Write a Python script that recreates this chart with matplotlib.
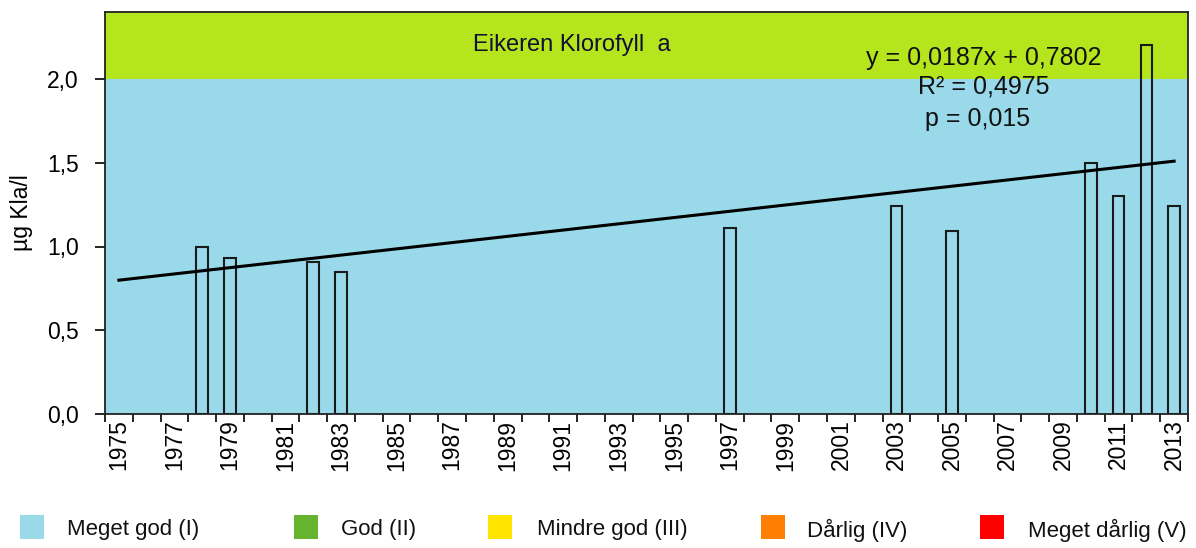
import matplotlib
matplotlib.use("Agg")
import matplotlib.pyplot as plt
from matplotlib.patches import Rectangle
from matplotlib.ticker import FuncFormatter
import numpy as np

plt.rcParams['font.family'] = ['Liberation Sans', 'DejaVu Sans']

# data
years = list(range(1975, 2014))
bar_years = [1978, 1979, 1982, 1983, 1997, 2003, 2005, 2010, 2011, 2012, 2013]
bar_values = [1.00, 0.93, 0.91, 0.85, 1.11, 1.24, 1.09, 1.50, 1.30, 2.20, 1.24]
trend_slope = 0.0187
trend_intercept = 0.7802
title = "Eikeren Klorofyll  a"
eq_lines = ["y = 0,0187x + 0,7802", "R² = 0,4975", "p = 0,015"]
class_limits = [0.0, 2.0, 2.4]
class_names = ["Meget god (I)", "God (II)", "Mindre god (III)", "Dårlig (IV)", "Meget dårlig (V)"]
class_colors = ["#99D9EA", "#66B32E", "#FFE400", "#FF7F00", "#FF0000"]
band_colors = ["#99D9EA", "#B5E61D"]

FS_TICK = 16.5
FS_TITLE = 17
FS_EQ = 18
FS_LEG = 16

fig = plt.figure(figsize=(11.96, 5.48), dpi=100)
W, H = 1196, 548
ax = fig.add_axes([105 / W, 1 - 414 / H, (1188 - 105) / W, (414 - 12) / H])

# background bands
for i in range(len(band_colors)):
    ax.axhspan(class_limits[i], class_limits[i + 1], color=band_colors[i], zorder=0, lw=0)

idx = [y - years[0] + 1 for y in bar_years]
ax.bar(idx, bar_values, width=0.42, facecolor="none", edgecolor="#1a1a1a", linewidth=1.5, zorder=2)

xs = np.array([1, len(years)])
ax.plot(xs, trend_slope * xs + trend_intercept, color="black", lw=2.2, zorder=3)

ax.set_xlim(0.5, len(years) + 0.5)
ax.set_ylim(class_limits[0], class_limits[-1])

ax.set_yticks([0, 0.5, 1.0, 1.5, 2.0])
ax.yaxis.set_major_formatter(FuncFormatter(lambda v, p: f"{v:.1f}".replace(".", ",")))
ax.tick_params(axis="y", direction="out", length=7, width=1.2, labelsize=FS_TICK, pad=12)

major = list(range(1, len(years) + 1, 2))
ax.set_xticks(major)
ax.set_xticklabels([str(years[i - 1]) for i in major], rotation=90)
ax.set_xticks(np.arange(0.5, len(years) + 1, 1.0), minor=True)
ax.tick_params(axis="x", which="major", length=0, labelsize=FS_TICK, pad=4)
ax.tick_params(axis="x", which="minor", direction="out", length=6, width=1.2)

for s in ax.spines.values():
    s.set_linewidth(1.3)
    s.set_color("#222222")

ax.set_ylabel("µg Kla/l", fontsize=FS_TICK)
ax.yaxis.set_label_coords(-72 / 1083, 0.5)

ax.text(0.431, 0.917, title, transform=ax.transAxes, fontsize=FS_TITLE, ha="center", va="center", color="#111133")
ax.text(0.811, 0.885, eq_lines[0], transform=ax.transAxes, fontsize=FS_EQ, ha="center", va="center", color="#111111")
ax.text(0.811, 0.815, eq_lines[1], transform=ax.transAxes, fontsize=FS_EQ, ha="center", va="center", color="#111111")
ax.text(0.806, 0.735, eq_lines[2], transform=ax.transAxes, fontsize=FS_EQ, ha="center", va="center", color="#111111")

# legend drawn at figure level
sq_x = [20, 294, 488, 761, 980]
txt_x = [67, 341, 537, 807, 1028]
for k in range(len(class_names)):
    fig.patches.append(Rectangle((sq_x[k] / W, 1 - 539 / H), 24 / W, 24 / H,
                                 transform=fig.transFigure, facecolor=class_colors[k],
                                 edgecolor="none"))
    fig.text(txt_x[k] / W, 1 - 530 / H, class_names[k], fontsize=FS_LEG, ha="left", va="center", color="#111111")

fig.savefig("out.png", dpi=100)
